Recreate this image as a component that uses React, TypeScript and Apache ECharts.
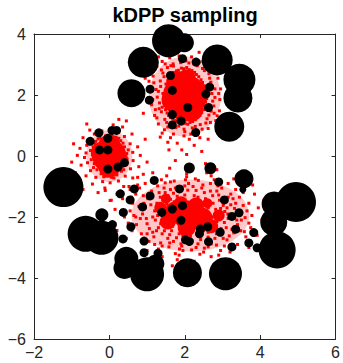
import React, { useEffect, useRef } from "react";
import * as echarts from "echarts";

const titleText = "kDPP sampling";
const xMin = -2, xMax = 6, xStep = 2;
const yMin = -6, yMax = 4, yStep = 2;

// faint spread of each red cloud [x, y, width, height]
const redHalos = [
  [2.0, 1.95, 72, 80],
  [0.0, 0.0, 46, 52],
  [2.15, -1.95, 118, 72],
];

// dense red cores [x, y, diameter]
const redCores = [
  [2.0, 1.95, 44], [1.85, 2.35, 26], [2.15, 1.55, 26], [1.7, 1.85, 24], [2.3, 2.05, 24], [1.95, 1.4, 18], [2.05, 2.55, 18],
  [0, 0, 34], [0, 0.35, 22], [0, -0.35, 22], [-0.2, 0.1, 22], [0.2, -0.1, 22],
  [2.1, -1.95, 30], [1.75, -1.85, 22], [2.45, -2.05, 22], [2.05, -2.35, 18], [2.3, -1.62, 16], [1.55, -2.15, 16], [2.7, -2.3, 14], [1.9, -1.55, 14],
  [1.35, -1.7, 12], [2.9, -1.95, 12], [1.5, -1.4, 10], [2.6, -1.55, 10],
];

const redCluster1 = [
  [1.48,1.92],[1.51,2.21],[1.46,1.66],[1.55,2.48],[1.53,1.41],[1.61,2.63],[1.62,1.27],[1.70,2.74],[1.73,1.16],[1.83,2.81],[1.86,1.12],[1.97,2.86],[2.01,1.07],[2.12,2.83],[2.14,1.10],[2.26,2.74],[2.28,1.19],[2.37,2.60],[2.40,1.33],[2.47,2.41],[2.50,1.52],[2.53,2.18],[2.55,1.78],[2.56,1.98],
  [1.42,2.05],[1.44,1.78],[1.50,2.36],[1.49,1.52],[1.58,2.57],[1.57,1.33],[1.66,2.69],[1.68,1.21],[1.78,2.79],[1.79,1.14],[1.91,2.88],[1.93,1.05],[2.05,2.90],[2.08,1.04],[2.19,2.80],[2.21,1.13],[2.31,2.67],[2.34,1.26],[2.43,2.50],[2.45,1.42],[2.52,2.30],[2.55,1.63],[2.60,2.06],[2.58,1.88],
  [1.30,2.12],[1.33,1.74],[1.35,2.46],[1.38,1.45],[1.42,2.72],[1.47,1.20],[1.54,2.90],[1.59,1.01],[1.69,3.02],[1.76,0.93],[1.89,3.06],[1.98,0.88],[2.11,3.05],[2.20,0.92],[2.33,2.96],[2.41,1.03],[2.52,2.80],[2.59,1.22],[2.66,2.55],[2.70,1.47],[2.73,2.27],[2.74,1.80],[2.72,2.05],[1.27,1.93],
  [1.36,2.28],[1.40,1.60],[1.45,2.60],[1.52,1.10],[1.63,2.96],[1.72,0.98],[2.03,3.12],[2.28,0.97],[2.47,2.87],[2.64,1.34],[2.69,2.42],[2.77,1.64],
  [1.10,2.20],[1.12,1.68],[1.16,2.62],[1.20,1.33],[1.26,2.93],[1.30,1.05],[1.40,3.10],[1.46,0.86],[1.60,3.22],[1.70,0.72],[1.85,3.28],[1.98,0.66],[2.18,3.25],[2.30,0.72],[2.48,3.10],[2.62,0.90],[2.72,2.85],[2.82,1.16],[2.88,2.55],[2.92,1.48],[2.95,2.20],[2.93,1.85],[1.05,1.90],[1.18,2.40],[1.22,1.52],[2.85,2.70],[2.86,1.32],[2.40,0.60],[1.62,0.60],[2.12,0.55],
  [0.95,2.55],[0.90,1.40],[1.00,2.90],[1.35,0.62],[1.55,0.45],[1.80,0.42],[1.92,0.20],[2.25,0.35],[2.62,0.55],[2.85,0.85],[3.02,1.25],[3.08,2.42],[3.00,2.95],[2.65,3.25],[1.30,3.25],[1.75,3.45],[2.38,3.40],[1.58,0.20],[2.05,0.05],[2.45,0.15],
  [1.58,2.10],[1.62,1.72],[1.66,2.40],[1.74,1.42],[1.78,2.60],[1.92,1.28],[1.95,2.68],[2.12,1.30],[2.22,2.60],[2.35,1.55],[2.40,2.20],[2.42,1.85],[1.55,1.95],[2.48,1.68],[2.30,2.45],[1.70,2.95],[1.84,0.98],[2.24,3.02],[2.56,1.08],[2.64,2.70],
  [2.80,1.92],[1.24,2.18],[1.32,1.55],[1.38,2.82],[1.55,0.95],[2.00,0.80],[2.46,0.88],[2.80,2.20],[2.68,1.10],[1.15,1.85],[1.48,3.02],[1.92,3.18],[2.38,3.08],[2.78,1.40],[1.26,1.25],[2.58,2.98],[1.05,2.45],[1.40,0.75],[2.16,0.72],[2.90,2.05],
];

const redCluster2 = [
  [-0.45,0.05],[-0.43,0.30],[-0.40,-0.25],[-0.36,0.48],[-0.33,-0.45],[-0.25,0.60],[-0.22,-0.58],[-0.10,0.66],[-0.08,-0.66],[0.05,0.68],[0.06,-0.70],[0.18,0.62],[0.20,-0.62],[0.30,0.50],[0.32,-0.50],[0.40,0.30],[0.42,-0.30],[0.46,0.08],[0.47,-0.10],
  [-0.50,0.18],[-0.48,-0.12],[-0.42,-0.38],[-0.30,0.56],[-0.15,-0.68],[0.12,-0.72],[0.25,0.58],[0.38,-0.45],[0.50,0.20],[-0.38,0.40],[0.36,0.42],
  [-0.62,0.10],[-0.60,0.35],[-0.58,-0.22],[-0.52,0.55],[-0.50,-0.48],[-0.40,0.72],[-0.36,-0.70],[-0.20,0.82],[-0.18,-0.84],[0.00,0.86],[0.02,-0.88],[0.22,0.80],[0.24,-0.82],[0.40,0.64],[0.42,-0.66],[0.55,0.40],[0.56,-0.42],[0.62,0.12],[0.63,-0.15],[-0.66,-0.05],
  [-0.78,0.25],[-0.75,-0.30],[-0.70,0.60],[-0.62,-0.65],[-0.52,0.85],[-0.45,-0.92],[0.10,1.02],[-0.12,-1.05],[0.35,0.95],[0.38,-1.00],[0.60,0.72],[0.62,-0.72],[0.75,0.30],[0.78,-0.35],[0.82,0.02],[-0.85,0.02],
  [-0.95,0.40],[-0.90,-0.55],[-0.30,-1.20],[0.20,-1.25],[0.55,-1.10],[0.90,-0.60],[0.95,0.55],[-0.60,1.05],[0.25,1.20],[-0.70,-1.10],[0.05,-1.45],[0.75,-0.95],[1.00,-0.20],[-1.00,-0.20],[0.45,1.15],
];

const redCluster3 = [
  [1.20,-1.80],[1.22,-2.10],[1.26,-1.55],[1.30,-2.35],[1.35,-1.35],[1.40,-2.55],[1.48,-1.20],[1.55,-2.70],[1.62,-1.10],[1.70,-2.80],[1.80,-1.02],[1.90,-2.88],[2.00,-0.98],[2.12,-2.90],[2.22,-1.00],[2.35,-2.88],[2.45,-1.05],[2.58,-2.80],[2.68,-1.15],[2.80,-2.70],[2.90,-1.28],[2.98,-2.55],[3.05,-1.45],[3.10,-2.35],[3.12,-1.70],[3.15,-2.05],[3.14,-1.90],
  [1.28,-1.95],[1.32,-1.68],[1.36,-2.22],[1.42,-1.45],[1.46,-2.45],[1.55,-1.30],[1.60,-2.58],[1.70,-1.22],[1.78,-2.68],[1.88,-1.15],[1.98,-2.75],[2.08,-1.12],[2.20,-2.78],[2.30,-1.13],[2.42,-2.74],[2.52,-1.20],[2.62,-2.66],[2.74,-1.30],[2.84,-2.55],[2.92,-1.45],[2.96,-2.38],[3.02,-1.62],[3.05,-2.18],[3.06,-1.82],
  [1.45,-1.75],[1.48,-2.00],[1.52,-1.58],[1.50,-2.30],[1.62,-1.42],[1.65,-2.45],[1.80,-1.32],[1.85,-2.55],[2.00,-1.28],[2.15,-2.62],[2.25,-1.30],[2.40,-2.58],[2.55,-1.40],[2.62,-2.50],[2.75,-1.55],[2.80,-2.40],[2.82,-1.75],[2.85,-2.15],[2.88,-1.95],[1.40,-1.90],[1.58,-1.68],[1.68,-2.30],[2.62,-1.70],[2.72,-2.00],[1.95,-2.62],[2.35,-1.35],[1.72,-1.50],[2.50,-2.45],[1.38,-2.15],[2.95,-1.72],
  [0.95,-1.70],[0.98,-2.05],[1.02,-1.40],[1.06,-2.38],[1.12,-1.15],[1.18,-2.65],[1.28,-0.98],[1.36,-2.85],[1.48,-0.88],[1.58,-2.98],[1.72,-0.82],[1.86,-3.05],[2.02,-0.78],[2.18,-3.08],[2.36,-0.80],[2.52,-3.02],[2.68,-0.90],[2.84,-2.92],[2.98,-1.05],[3.12,-2.75],[3.22,-1.25],[3.30,-2.52],[3.35,-1.55],[3.40,-2.25],[3.42,-1.88],
  [0.88,-1.90],[0.92,-1.55],[1.00,-2.22],[1.08,-1.28],[1.15,-2.50],[1.40,-2.95],[1.62,-0.85],[1.95,-3.10],[2.28,-0.75],[2.62,-2.98],[2.88,-0.98],[3.18,-2.62],[3.28,-1.40],[3.38,-2.10],[3.32,-1.72],
  [0.62,-1.55],[0.65,-1.95],[0.70,-1.25],[0.72,-2.25],[0.80,-1.05],[0.85,-2.55],[0.95,-0.90],[1.05,-2.80],[1.18,-0.75],[1.30,-3.05],[1.52,-0.65],[1.75,-3.20],[2.05,-0.58],[2.40,-3.22],[2.70,-0.65],[2.95,-3.10],[3.15,-0.90],[3.40,-2.90],[3.55,-1.20],[3.62,-2.65],[3.70,-1.55],[3.75,-2.35],[3.78,-1.95],[0.55,-1.80],[0.60,-2.45],[3.65,-1.80],[3.50,-2.10],[3.58,-2.48],[3.45,-1.35],[2.58,-0.55],
  [0.35,-1.40],[0.40,-2.00],[0.45,-2.70],[0.52,-1.00],[0.75,-0.70],[1.00,-3.10],[1.40,-3.30],[1.80,-3.40],[2.25,-3.45],[2.70,-3.30],[3.20,-3.15],[3.85,-1.25],[3.95,-1.70],[4.05,-2.10],[3.92,-2.60],[3.70,-3.00],[3.30,-0.75],[2.85,-0.45],[2.20,-0.35],[1.60,-0.40],[1.15,-0.55],[4.10,-1.45],[3.80,-0.95],[1.75,-0.15],[2.55,-0.25],
  [-0.11,-1.13],[0.02,-1.46],[0.20,-2.44],[0.15,-1.75],[1.67,-3.60],[2.90,-3.45],
  [1.10,-1.60],[1.15,-2.00],[1.25,-2.45],[1.32,-1.20],[1.45,-1.05],[1.60,-2.85],[1.75,-1.05],[1.92,-2.95],[2.10,-0.90],[2.30,-3.00],[2.48,-0.95],[2.70,-2.88],[2.85,-1.15],[3.02,-2.70],[3.15,-1.35],[3.25,-2.40],[3.30,-1.95],[3.22,-1.60],[0.78,-1.65],[0.82,-2.05],
  [0.90,-1.30],[1.00,-2.55],[2.05,-0.68],[1.38,-0.78],[2.78,-0.78],[3.48,-2.45],[3.55,-1.62],[3.60,-2.02],[0.70,-2.00],[3.05,-2.95],[1.20,-2.90],[2.50,-3.15],[0.50,-2.20],[0.58,-1.35],[3.70,-2.20],[3.35,-1.10],[1.85,-3.25],[2.90,-3.25],
];

// large kDPP sample circles [x, y, diameter]
const blackCircles = [
  [1.57, 3.78, 33], [1.99, 3.71, 19], [0.90, 3.07, 31], [0.585, 2.06, 28], [2.86, 3.15, 31],
  [3.45, 2.50, 32], [3.41, 1.90, 29], [3.18, 0.96, 30], [-1.22, -1.02, 40], [-0.20, -1.93, 13],
  [-0.63, -2.55, 36], [-0.21, -2.68, 34], [0.45, -3.37, 24], [0.40, -3.67, 22], [1.00, -3.88, 34],
  [1.22, -3.53, 18], [2.07, -3.83, 29], [3.08, -3.86, 33], [4.45, -3.08, 37], [3.57, -0.75, 19],
  [4.95, -1.51, 40], [4.37, -1.57, 25], [4.36, -2.17, 27], [2.12, -0.39, 11], [2.68, -0.40, 12],
  [3.54, -1.10, 7],
];

// small black sample dots [x, y]
const blackDots = [
  [1.94,3.19],[2.30,3.08],[1.62,2.64],[1.67,2.15],[2.66,2.26],[2.56,2.03],[2.63,1.59],[2.08,1.59],[1.67,1.36],[1.90,1.15],[1.67,1.02],[2.29,0.77],[1.08,2.19],[1.06,1.83],
  [-0.28,0.76],[-0.51,0.48],[-0.04,0.58],[0.07,0.84],[0.19,0.84],[-0.26,0.20],[-0.04,0.20],[0.40,-0.22],[0.23,-0.36],[-0.04,-0.43],
  [1.19,-0.80],[2.90,-0.85],[0.66,-1.08],[0.29,-1.24],[1.86,-1.08],[1.08,-1.31],[0.55,-1.44],[3.05,-1.44],[0.88,-1.67],[1.94,-1.63],[1.67,-1.74],[1.39,-1.85],[0.37,-1.85],[3.44,-1.86],[3.25,-1.98],[1.90,-2.11],[0.08,-2.25],[0.57,-2.32],[2.41,-2.39],[2.61,-2.32],[3.35,-2.40],[2.94,-2.50],[3.83,-2.51],[2.39,-2.55],[0.36,-2.72],[0.92,-2.79],[2.02,-2.75],[2.12,-2.80],[2.63,-2.81],[3.25,-2.98],[3.70,-2.85],[3.92,-3.01],[0.92,-3.17],[1.29,-3.19],
];

const axisColor = "#262626";
const fontFamily = '"Liberation Sans", Arial, Helvetica, sans-serif';

export default function App() {
  const ref = useRef<HTMLDivElement>(null);
  useEffect(() => {
    document.body.style.margin = "0";
    const chart = echarts.init(ref.current!, null, { renderer: "svg" });
    const labelFmt = (v: number) => String(v).replace("-", "\u2212");
    const baseAxis = {
      type: "value" as const,
      axisLine: { show: true, onZero: false, lineStyle: { color: axisColor, width: 1 } },
      axisTick: { show: true, inside: true, length: 4, lineStyle: { color: axisColor, width: 1 } },
      splitLine: { show: false },
    };
    chart.setOption({
      animation: false,
      graphic: [
        {
          type: "text",
          x: 185,
          y: 5,
          silent: true,
          style: {
            text: titleText,
            fill: "#000",
            font: `bold 20px ${fontFamily}`,
            textAlign: "center",
            align: "center",
            textVerticalAlign: "top",
            verticalAlign: "top",
          },
        },
      ],
      grid: { left: 34, right: 7, top: 34, bottom: 24, show: false },
      xAxis: [
        {
          ...baseAxis, position: "bottom", min: xMin, max: xMax, interval: xStep,
          axisLabel: { color: axisColor, fontSize: 16, fontFamily, margin: 5, formatter: labelFmt },
        },
        {
          ...baseAxis, position: "top", min: xMin, max: xMax, interval: xStep,
          axisLabel: { show: false },
        },
      ],
      yAxis: [
        {
          ...baseAxis, position: "left", min: yMin, max: yMax, interval: yStep,
          axisLabel: { color: axisColor, fontSize: 16, fontFamily, margin: 8, formatter: labelFmt },
        },
        {
          ...baseAxis, position: "right", min: yMin, max: yMax, interval: yStep,
          axisLabel: { show: false },
        },
      ],
      series: [
        {
          type: "scatter", silent: true, data: redHalos, symbol: "circle",
          symbolSize: (v: number[]) => [v[2], v[3]], itemStyle: { color: "#ff0000", opacity: 0.22 },
        },
        {
          type: "scatter", silent: true, data: redCores, symbol: "circle",
          symbolSize: (v: number[]) => v[2], itemStyle: { color: "#ff0000", opacity: 1 },
        },
        {
          type: "scatter", silent: true, data: [...redCluster1, ...redCluster2, ...redCluster3],
          symbol: "rect", symbolSize: 3, itemStyle: { color: "#ff0000", opacity: 1 },
        },
        {
          type: "scatter", silent: true, data: blackCircles, symbol: "circle",
          symbolSize: (v: number[]) => v[2], itemStyle: { color: "#000000", opacity: 1 },
        },
        {
          type: "scatter", silent: true, data: blackDots, symbol: "circle",
          symbolSize: 9, itemStyle: { color: "#000000", opacity: 1 },
        },
      ],
    });
    return () => chart.dispose();
  }, []);
  return <div ref={ref} style={{ position: "absolute", left: 0, top: 0, width: 343, height: 363 }} />;
}
